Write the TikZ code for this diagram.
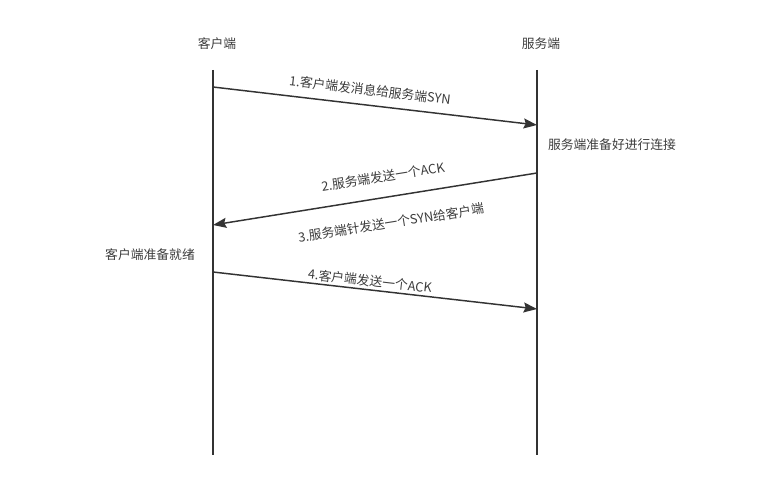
\documentclass[tikz,border=0pt]{standalone}
\usepackage{fontspec}
\setmainfont{Noto Sans CJK SC}
\usetikzlibrary{arrows.meta}
\definecolor{linegray}{HTML}{333333}
\definecolor{textgray}{HTML}{3C3C3C}

\begin{document}
\begin{tikzpicture}[x=0.75pt,y=-0.75pt,
    font=\fontsize{9.6}{11}\selectfont,
    every node/.style={text=textgray,inner sep=0pt},
    life/.style={linegray,line width=1.1pt},
    msg/.style={linegray,line width=1.1pt,-{Stealth[length=10pt,width=7.5pt,inset=1.5pt]}}]
   \useasboundingbox (0,0) rectangle (763,481);
   % lifelines
   \coordinate (ctop) at (213,70);
   \coordinate (cbot) at (213,455);
   \coordinate (stop) at (537,70);
   \coordinate (sbot) at (537,455);
   \draw[life] (ctop) -- (cbot);
   \draw[life] (stop) -- (sbot);
   \node (client) at (217,44) {客户端};
   \node (server) at (541,44) {服务端};
   % messages
   \coordinate (m1a) at (213,87);
   \coordinate (m1b) at (537,125);
   \coordinate (m2a) at (537,173);
   \coordinate (m2b) at (213,225);
   \coordinate (m4a) at (213,272);
   \coordinate (m4b) at (537,309);
   \draw[msg] (m1a) -- (m1b);
   \draw[msg] (m2a) -- (m2b);
   \draw[msg] (m4a) -- (m4b);
   \node[rotate=-6.7] (l1) at (370,90) {1.客户端发消息给服务端SYN};
   \node[rotate=9.1] (l2) at (383,177) {2.服务端发送一个ACK};
   \node[rotate=9.1] (l3) at (391,223) {3.服务端针发送一个SYN给客户端};
   \node[rotate=-6.5] (l4) at (370,281) {4.客户端发送一个ACK};
   % states
   \node (sready) at (612,145) {服务端准备好进行连接};
   \node (cready) at (150,255) {客户端准备就绪};
  \end{tikzpicture}
\end{document}
